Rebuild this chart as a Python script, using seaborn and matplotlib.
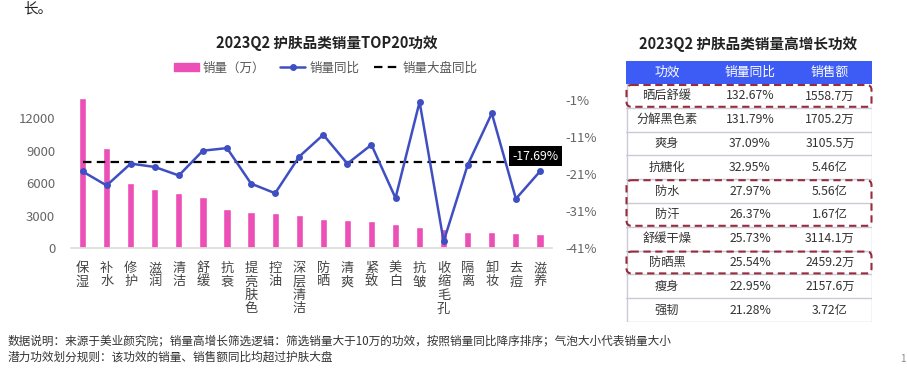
import numpy as np
import seaborn as sns
import matplotlib.pyplot as plt
from matplotlib.patches import Rectangle, FancyBboxPatch, Patch
from matplotlib.lines import Line2D

# 左图：销量 TOP20 功效
effects = ["保湿", "补水", "修护", "滋润", "清洁", "舒缓", "抗衰", "提亮肤色", "控油", "深层清洁",
           "防晒", "清爽", "紧致", "美白", "抗皱", "收缩毛孔", "隔离", "卸妆", "去痘", "滋养"]
sales = [13850, 9230, 5970, 5450, 5050, 4680, 3570, 3320, 3200, 3080,
         2650, 2560, 2490, 2190, 1940, 1800, 1480, 1450, 1420, 1270]
yoy = [-20.3, -24.1, -18.2, -19.1, -21.4, -14.7, -14.0, -23.6, -26.2, -16.3,
       -10.4, -18.2, -13.1, -27.5, -1.5, -39.2, -18.5, -4.6, -27.7, -20.3]
market_yoy = -17.69
left_ticks = [0, 3000, 6000, 9000, 12000]
right_ticks = [-41, -31, -21, -11, -1]

# 右表：销量高增长功效
tbl_effects = ["晒后舒缓", "分解黑色素", "爽身", "抗糖化", "防水", "防汗", "舒缓干燥", "防晒黑", "瘦身", "强韧"]
tbl_yoy = ["132.67%", "131.79%", "37.09%", "32.95%", "27.97%", "26.37%", "25.73%", "25.54%", "22.95%", "21.28%"]
tbl_sales = ["1558.7万", "1705.2万", "3105.5万", "5.46亿", "5.56亿", "1.67亿", "3114.1万", "2459.2万", "2157.6万", "3.72亿"]
tbl_header = ["功效", "销量同比", "销售额"]
highlight_groups = [[0], [4, 5], [7]]

pink = "#ec4fb6"
blue = "#3f4fc2"
grey = "#666666"

sns.set_theme(style="white")
plt.rcParams['font.family'] = ['Noto Sans CJK SC', 'DejaVu Sans']

W, H = 907, 380
fig = plt.figure(figsize=(W / 100, H / 100), dpi=100)

def fx(px):
    return px / W

def fy(py):
    return 1 - py / H

# ---------------- 柱线组合图 ----------------
ax = fig.add_axes([fx(70.5), fy(248), fx(481.5), 153 / H])
sns.barplot(x=effects, y=sales, color=pink, width=0.3, saturation=1, ax=ax)
ax.set_ylim(0, 14130)
ax.set_xlim(-0.5, len(effects) - 0.5)
ax.set_yticks(left_ticks)
ax.set_yticklabels([str(t) for t in left_ticks])
ax.set_xticks(range(len(effects)))
ax.set_xticklabels(["\n".join(e) for e in effects], va="top", linespacing=1.05)
ax.tick_params(axis="y", length=0, pad=11, labelsize=9.5, labelcolor=grey)
ax.tick_params(axis="x", length=0, pad=10, labelsize=9.5, labelcolor="#444444")
ax.set_xlabel("")
ax.set_ylabel("")
for s in ["top", "left", "right"]:
    ax.spines[s].set_visible(False)
ax.spines["bottom"].set_color("#dddddd")

ax2 = ax.twinx()
sns.lineplot(x=np.arange(len(effects)), y=yoy, color=blue, lw=1.8, marker="o",
             markersize=5, markeredgewidth=0, ax=ax2, zorder=3)
ax2.hlines(market_yoy, 0, len(effects) - 1, colors="black", linestyles=(0, (3.8, 2.4)),
           lw=1.6, zorder=2)
ax2.text(17.85, -16.2, f"{market_yoy:.2f}%", color="white", fontsize=8.8, va="center",
         ha="left", zorder=5,
         bbox=dict(boxstyle="square,pad=0.3", fc="black", ec="none"))
ax2.set_ylim(-41, 0.35)
ax2.set_yticks(right_ticks)
ax2.set_yticklabels([f"{t}%" for t in right_ticks])
ax2.tick_params(axis="y", length=0, pad=10, labelsize=9.5, labelcolor=grey)
ax2.set_ylabel("")
for s in ["top", "left", "right", "bottom"]:
    ax2.spines[s].set_visible(False)

fig.text(fx(327), fy(43), "2023Q2 护肤品类销量TOP20功效", ha="center", va="center",
         fontsize=10.5, fontweight="bold", color="#222222")

handles = [Patch(color=pink),
           Line2D([0], [0], color=blue, lw=1.8, marker="o", markersize=5, markeredgewidth=0),
           Line2D([0], [0], color="black", lw=1.6, linestyle=(0, (3.8, 2.4)))]
fig.legend(handles, ["销量（万）", "销量同比", "销量大盘同比"], ncol=3, frameon=False,
           loc="center", bbox_to_anchor=(fx(326), fy(68)), fontsize=9,
           labelcolor="#555555", handlelength=2.0, handleheight=0.6,
           columnspacing=1.2, handletextpad=0.3)

# ---------------- 右侧表格 ----------------
fig.text(fx(748), fy(44), "2023Q2 护肤品类销量高增长功效", ha="center", va="center",
         fontsize=10.5, fontweight="bold", color="#222222")

tw, th = 246, 261
head_h = 23
row_h = (th - head_h) / len(tbl_effects)
axt = fig.add_axes([fx(626), fy(61 + th), fx(tw), th / H])
axt.set_xlim(0, tw)
axt.set_ylim(th, 0)
axt.axis("off")

col_x = [41, 124, 204]
axt.add_patch(Rectangle((0, 0), tw, head_h, color="#3d5cf5", lw=0))
for cx, lab in zip(col_x, tbl_header):
    axt.text(cx, head_h / 2, lab, ha="center", va="center", color="white", fontsize=9.2)

line_c = "#c9cbdb"
for i in range(len(tbl_effects)):
    yc = head_h + (i + 0.5) * row_h
    for cx, val in zip(col_x, [tbl_effects[i], tbl_yoy[i], tbl_sales[i]]):
        axt.text(cx, yc, val, ha="center", va="center", color="#333333", fontsize=8.8)
    axt.plot([0, tw], [head_h + (i + 1) * row_h] * 2, color=line_c, lw=1)
axt.plot([0.5, 0.5], [head_h, th], color=line_c, lw=1)
axt.plot([tw - 0.5, tw - 0.5], [head_h, th], color=line_c, lw=1)

for grp in highlight_groups:
    y0 = head_h + grp[0] * row_h + 1
    y1 = head_h + (grp[-1] + 1) * row_h - 1
    axt.add_patch(FancyBboxPatch((0.5, y0), tw - 1, y1 - y0,
                                 boxstyle="round,pad=0,rounding_size=5",
                                 fill=False, ec="#962c3c", lw=1.5,
                                 linestyle=(0, (3.5, 2.2)), zorder=4, clip_on=False))

# ---------------- 其他文字 ----------------
fig.text(fx(23), fy(8), "长。", ha="left", va="center", fontsize=10.5, color="#222222")
fig.text(fx(8), fy(341), "数据说明：来源于美业颜究院；销量高增长筛选逻辑：筛选销量大于10万的功效，"
         "按照销量同比降序排序；气泡大小代表销量大小", ha="left", va="center",
         fontsize=8.4, color="#333333")
fig.text(fx(8), fy(357), "潜力功效划分规则：该功效的销量、销售额同比均超过护肤大盘",
         ha="left", va="center", fontsize=8.4, color="#333333")
fig.text(fx(903), fy(359), "1", ha="center", va="center", fontsize=7, color="#888888")

fig.savefig("out.png", dpi=100)
